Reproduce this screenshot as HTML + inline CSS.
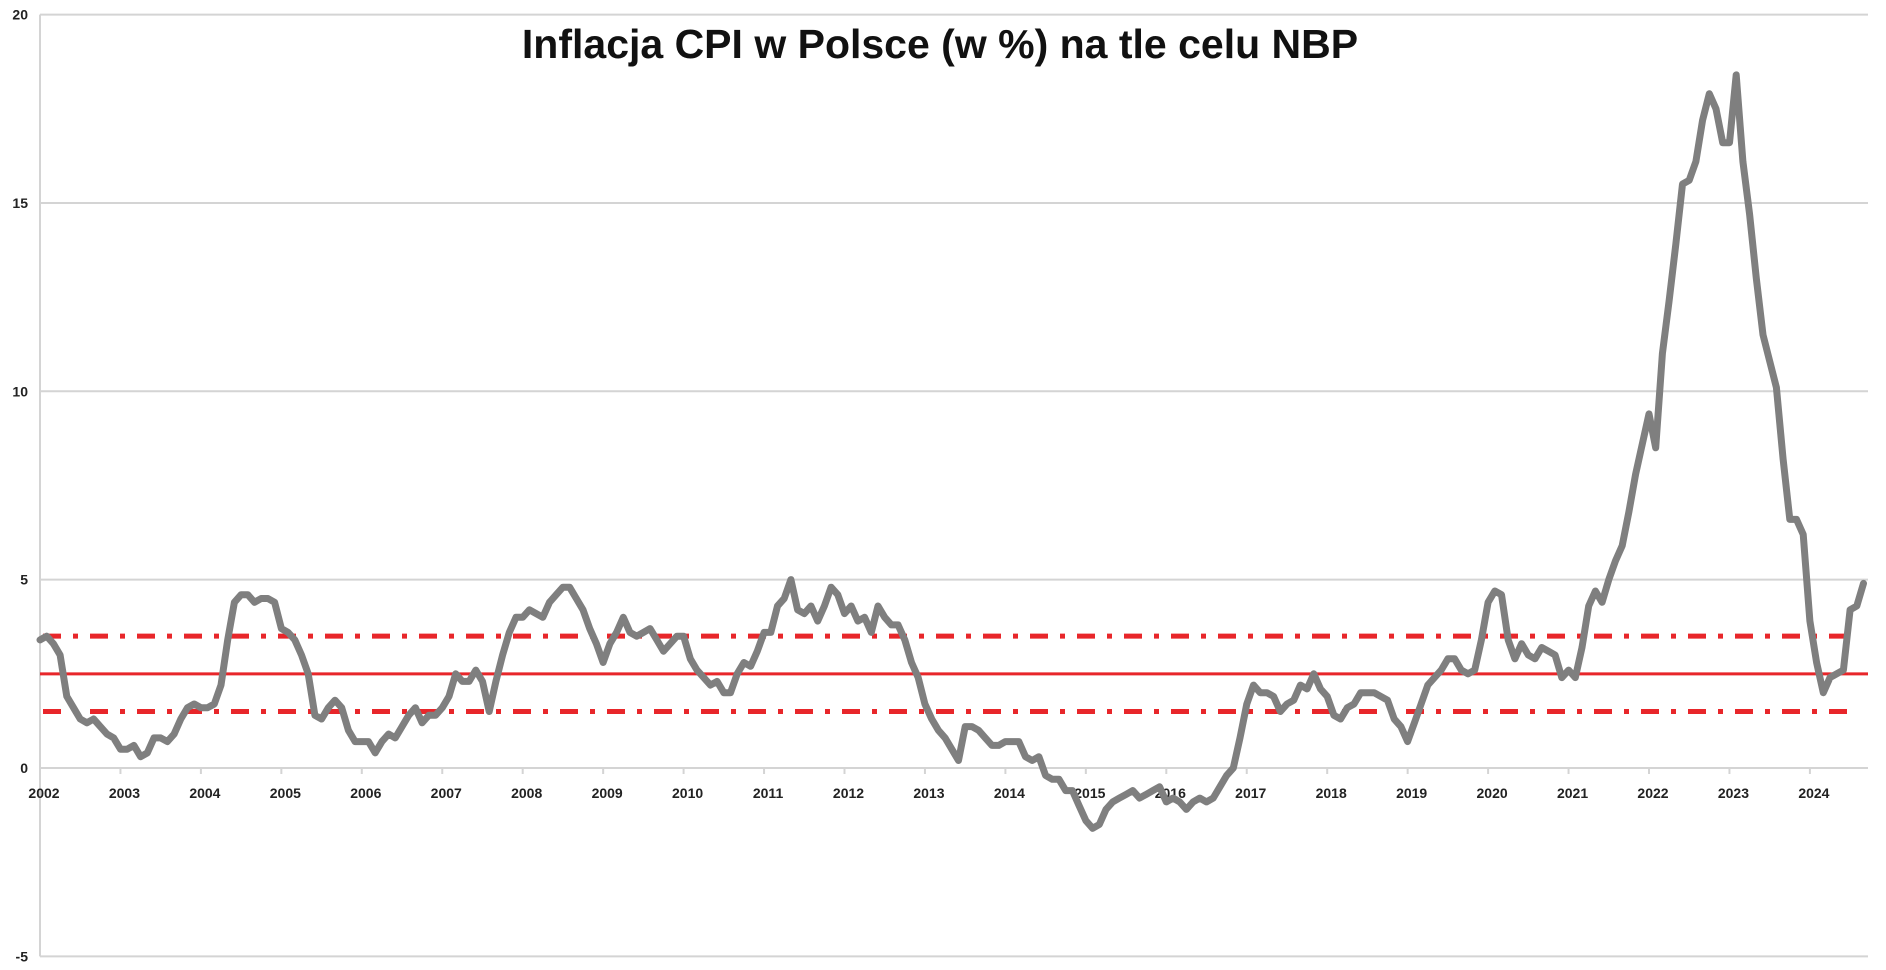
<!DOCTYPE html>
<html><head><meta charset="utf-8"><style>
html,body{margin:0;padding:0;background:#fff;}
svg{display:block;font-family:"Liberation Sans",sans-serif;}
</style></head><body>
<svg id="c" width="1886" height="970" xmlns="http://www.w3.org/2000/svg">
<text x="940" y="58" text-anchor="middle" font-size="41" font-weight="bold" fill="#111">Inflacja CPI w Polsce (w %) na tle celu NBP</text>
<g id="grid"></g>
</svg>
<script>
const svg=document.getElementById('c'),NS='http://www.w3.org/2000/svg';
const y0=768,u=37.67,x0=40,yw=80.45;
const Y=v=>y0-v*u, X=i=>x0+i*yw/12;
function el(t,a,txt){const e=document.createElementNS(NS,t);for(const k in a)e.setAttribute(k,a[k]);if(txt!=null)e.textContent=txt;svg.appendChild(e);return e;}
for(let v=-5;v<=20;v+=5){el('line',{x1:x0,x2:1868,y1:Y(v),y2:Y(v),stroke:'#d4d4d4','stroke-width':2});
el('text',{x:28,y:Y(v)+5,'text-anchor':'end','font-size':14,'font-weight':'bold',fill:'#222'},v);}
el('line',{x1:x0,x2:x0,y1:Y(20),y2:Y(-5),stroke:'#d4d4d4','stroke-width':2});
for(let k=0;k<=22;k++){const x=x0+k*yw;el('line',{x1:x,x2:x,y1:y0,y2:y0+6,stroke:'#d4d4d4','stroke-width':2});
el('text',{x:x+4,y:798,'text-anchor':'middle','font-size':14,'font-weight':'bold',fill:'#222'},2002+k);}
el('line',{x1:x0,x2:1868,y1:Y(2.5),y2:Y(2.5),stroke:'#e8262a','stroke-width':3});
[3.5,1.5].forEach(v=>el('line',{x1:x0+3,x2:1855,y1:Y(v),y2:Y(v),stroke:'#e8262a','stroke-width':5,'stroke-dasharray':'18 12 5 12'}));
const d=[3.4,3.5,3.3,3.0,1.9,1.6,1.3,1.2,1.3,1.1,0.9,0.8,
0.5,0.5,0.6,0.3,0.4,0.8,0.8,0.7,0.9,1.3,1.6,1.7,
1.6,1.6,1.7,2.2,3.4,4.4,4.6,4.6,4.4,4.5,4.5,4.4,
3.7,3.6,3.4,3.0,2.5,1.4,1.3,1.6,1.8,1.6,1.0,0.7,
0.7,0.7,0.4,0.7,0.9,0.8,1.1,1.4,1.6,1.2,1.4,1.4,
1.6,1.9,2.5,2.3,2.3,2.6,2.3,1.5,2.3,3.0,3.6,4.0,
4.0,4.2,4.1,4.0,4.4,4.6,4.8,4.8,4.5,4.2,3.7,3.3,
2.8,3.3,3.6,4.0,3.6,3.5,3.6,3.7,3.4,3.1,3.3,3.5,
3.5,2.9,2.6,2.4,2.2,2.3,2.0,2.0,2.5,2.8,2.7,3.1,
3.6,3.6,4.3,4.5,5.0,4.2,4.1,4.3,3.9,4.3,4.8,4.6,
4.1,4.3,3.9,4.0,3.6,4.3,4.0,3.8,3.8,3.4,2.8,2.4,
1.7,1.3,1.0,0.8,0.5,0.2,1.1,1.1,1.0,0.8,0.6,0.6,
0.7,0.7,0.7,0.3,0.2,0.3,-0.2,-0.3,-0.3,-0.6,-0.6,-1.0,
-1.4,-1.6,-1.5,-1.1,-0.9,-0.8,-0.7,-0.6,-0.8,-0.7,-0.6,-0.5,
-0.9,-0.8,-0.9,-1.1,-0.9,-0.8,-0.9,-0.8,-0.5,-0.2,0.0,0.8,
1.7,2.2,2.0,2.0,1.9,1.5,1.7,1.8,2.2,2.1,2.5,2.1,
1.9,1.4,1.3,1.6,1.7,2.0,2.0,2.0,1.9,1.8,1.3,1.1,
0.7,1.2,1.7,2.2,2.4,2.6,2.9,2.9,2.6,2.5,2.6,3.4,
4.4,4.7,4.6,3.4,2.9,3.3,3.0,2.9,3.2,3.1,3.0,2.4,
2.6,2.4,3.2,4.3,4.7,4.4,5.0,5.5,5.9,6.8,7.8,8.6,
9.4,8.5,11.0,12.4,13.9,15.5,15.6,16.1,17.2,17.9,17.5,16.6,
16.6,18.4,16.1,14.7,13.0,11.5,10.8,10.1,8.2,6.6,6.6,6.2,
3.9,2.8,2.0,2.4,2.5,2.6,4.2,4.3,4.9];
el('polyline',{points:d.map((v,i)=>X(i).toFixed(1)+','+Y(v).toFixed(1)).join(' '),fill:'none',stroke:'#7f7f7f','stroke-width':7,'stroke-linejoin':'round','stroke-linecap':'round'});
</script>
</body></html>
